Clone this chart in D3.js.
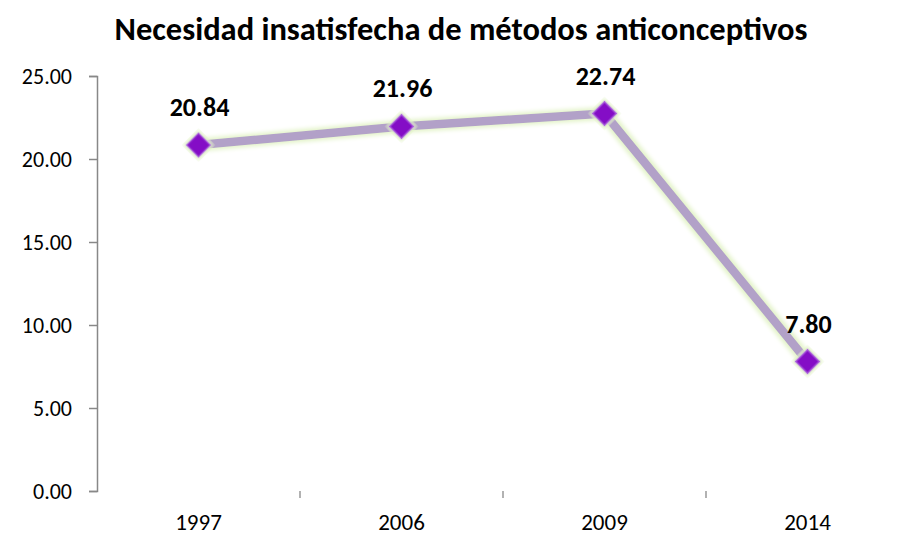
<!DOCTYPE html>
<html>
<head>
<meta charset="utf-8">
<script src="https://cdn.jsdelivr.net/npm/d3@7"></script>
<style>
  body { margin: 0; background: #fff; }
  text { font-family: Carlito, Calibri, "Open Sans", sans-serif; }
</style>
</head>
<body>
<div id="graph"></div>
<script>
// datos
const years = ["1997", "2006", "2009", "2014"];
const values = [20.84, 21.96, 22.74, 7.80];
const yTicks = [0, 5, 10, 15, 20, 25];

const W = 897, H = 537;
const mLeft = 97, mRight = 909, mTop = 76, mBottom = 491;

const svg = d3.select("#graph")
    .append("svg")
    .attr("width", W)
    .attr("height", H);

const defs = svg.append("defs");
const glow = defs.append("filter").attr("id", "glow")
    .attr("x", "-20%").attr("y", "-20%").attr("width", "140%").attr("height", "140%");
glow.append("feMorphology").attr("in", "SourceAlpha").attr("operator", "dilate").attr("radius", 2).attr("result", "d");
glow.append("feGaussianBlur").attr("in", "d").attr("stdDeviation", 2).attr("result", "b");
glow.append("feFlood").attr("flood-color", "#e3f3c8").attr("result", "c");
glow.append("feComposite").attr("in", "c").attr("in2", "b").attr("operator", "in").attr("result", "g");
const m = glow.append("feMerge");
m.append("feMergeNode").attr("in", "g");
m.append("feMergeNode").attr("in", "SourceGraphic");

const shadow = defs.append("filter").attr("id", "shadow")
    .attr("x", "-5%").attr("y", "-200%").attr("width", "110%").attr("height", "500%");
shadow.append("feDropShadow").attr("dx", 0).attr("dy", 2).attr("stdDeviation", 1.2)
    .attr("flood-color", "#000").attr("flood-opacity", 0.35);

let x = d3.scaleBand()
    .domain(years)
    .range([mLeft, mRight]);

let y = d3.scaleLinear()
    .domain([0, 25])
    .range([mBottom, mTop]);

// titulo
svg.append("text")
    .attr("x", 461)
    .attr("y", 40)
    .attr("text-anchor", "middle")
    .style("font-size", "32.5px")
    .style("font-weight", "bold")
    .text("Necesidad insatisfecha de métodos anticonceptivos");

// eje Y
let yAxis = svg.append("g")
    .attr("transform", "translate(" + mLeft + ",0)")
    .call(d3.axisLeft(y).tickValues(yTicks).tickFormat(d3.format(".2f")).tickSize(8).tickPadding(17));
yAxis.select(".domain").attr("stroke", "#888").attr("stroke-width", 1.5);
yAxis.selectAll(".tick line").attr("stroke", "#888").attr("stroke-width", 1.5);
yAxis.selectAll("text").style("font-size", "22px").attr("fill", "#000")
    .style("font-family", "Carlito, Calibri, 'Open Sans', sans-serif");

// eje X
let xAxis = svg.append("g")
    .attr("transform", "translate(0," + mBottom + ")")
    .call(d3.axisBottom(x).tickSize(0).tickPadding(23));
xAxis.select(".domain").remove();
xAxis.selectAll(".tick line").remove();
xAxis.append("line")
    .attr("x1", mLeft).attr("x2", mRight)
    .attr("stroke", "#888").attr("stroke-width", 2)
    .attr("filter", "url(#shadow)");
xAxis.selectAll(".sep")
    .data(years.slice(1).concat(["end"]))
    .enter()
    .append("line")
    .attr("x1", (d, i) => mLeft + x.step() * (i + 1))
    .attr("x2", (d, i) => mLeft + x.step() * (i + 1))
    .attr("y1", 0).attr("y2", 7)
    .attr("stroke", "#999").attr("stroke-width", 1.5);
xAxis.selectAll(".tick text").style("font-size", "23px").attr("fill", "#000")
    .style("font-family", "Carlito, Calibri, 'Open Sans', sans-serif");

// linea
const pts = years.map((d, i) => [x(d) + x.bandwidth() / 2, y(values[i])]);
svg.append("path")
    .datum(pts)
    .attr("d", d3.line())
    .attr("fill", "none")
    .attr("stroke", "#b2a1c8")
    .attr("stroke-width", 8.5)
    .attr("stroke-linejoin", "round")
    .attr("filter", "url(#glow)");

// marcadores
svg.append("g")
    .selectAll("path")
    .data(pts)
    .enter()
    .append("path")
    .attr("transform", d => "translate(" + d[0] + "," + d[1] + ") rotate(45)")
    .attr("d", "M-8.5,-8.5H8.5V8.5H-8.5Z")
    .attr("fill", "#8410c6")
    .attr("stroke", "#b066dd")
    .attr("stroke-width", 1.5)
    .attr("filter", "url(#glow)");

// etiquetas
svg.append("g")
    .selectAll("text")
    .data(pts)
    .enter()
    .append("text")
    .attr("x", d => d[0] + 1)
    .attr("y", d => d[1] - 29)
    .attr("text-anchor", "middle")
    .style("font-size", "26px")
    .style("font-weight", "bold")
    .text((d, i) => d3.format(".2f")(values[i]));
</script>
</body>
</html>
